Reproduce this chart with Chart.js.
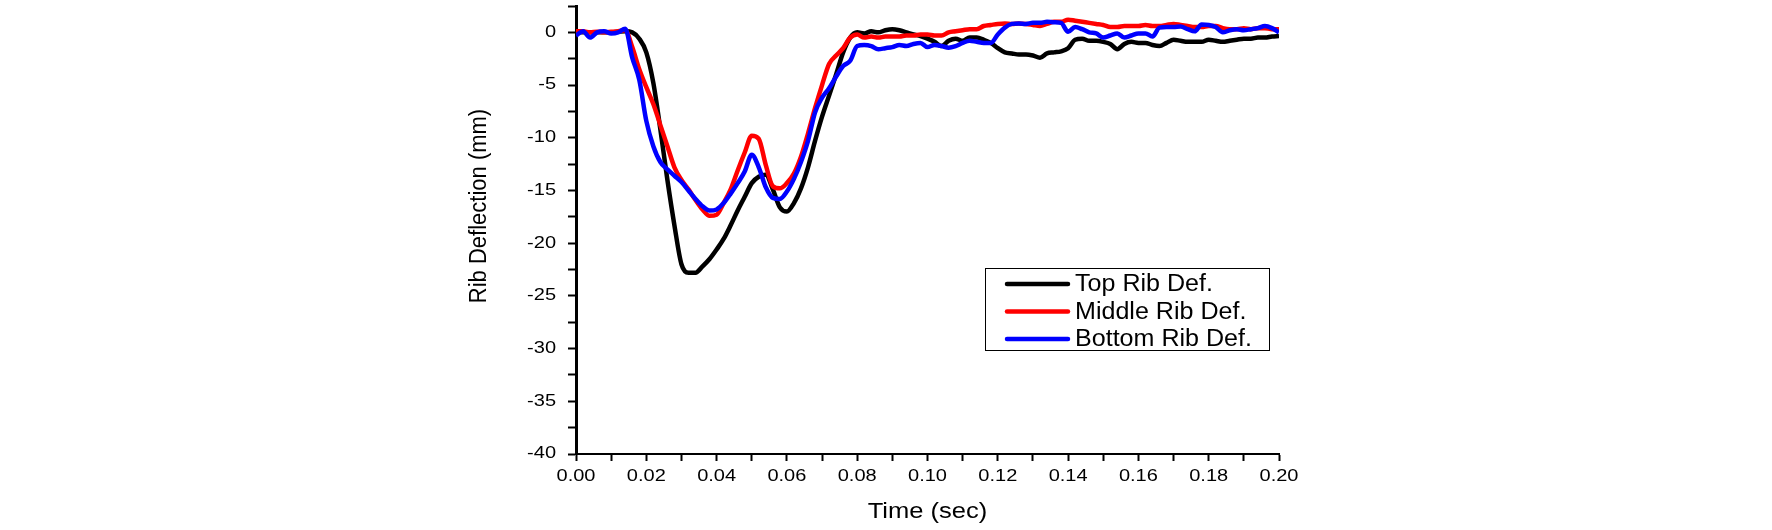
<!DOCTYPE html>
<html>
<head>
<meta charset="utf-8">
<title>Rib Deflection</title>
<script src="https://cdn.jsdelivr.net/npm/chart.js@4.4.0/dist/chart.umd.min.js"></script>
<style>
  body { margin: 0; background: #fff; }
  #wrap { width: 1772px; height: 530px; }
</style>
</head>
<body>
<div id="wrap"><canvas id="line-chart" width="1772" height="530"></canvas></div>
<script>
// Time axis (sec), every 2 ms
var timeSec = [
  0.000, 0.002, 0.004, 0.006, 0.008, 0.010, 0.012, 0.014, 0.016, 0.018,
  0.020, 0.022, 0.024, 0.026, 0.028, 0.030, 0.032, 0.034, 0.036, 0.038,
  0.040, 0.042, 0.044, 0.046, 0.048, 0.050, 0.052, 0.054, 0.056, 0.058,
  0.060, 0.062, 0.064, 0.066, 0.068, 0.070, 0.072, 0.074, 0.076, 0.078,
  0.080, 0.082, 0.084, 0.086, 0.088, 0.090, 0.092, 0.094, 0.096, 0.098,
  0.100, 0.102, 0.104, 0.106, 0.108, 0.110, 0.112, 0.114, 0.116, 0.118,
  0.120, 0.122, 0.124, 0.126, 0.128, 0.130, 0.132, 0.134, 0.136, 0.138,
  0.140, 0.142, 0.144, 0.146, 0.148, 0.150, 0.152, 0.154, 0.156, 0.158,
  0.160, 0.162, 0.164, 0.166, 0.168, 0.170, 0.172, 0.174, 0.176, 0.178,
  0.180, 0.182, 0.184, 0.186, 0.188, 0.190, 0.192, 0.194, 0.196, 0.198,
  0.200
];

// Rib deflection (mm)
var topRib = [
  0.0, 0.0, 0.0, 0.0, 0.0, 0.0, 0.05, 0.1, 0.0, -0.6,
  -1.9, -4.8, -9.2, -14.0, -18.3, -22.0, -22.8, -22.8, -22.2, -21.5,
  -20.6, -19.6, -18.3, -16.9, -15.6, -14.3, -13.7, -13.5, -14.9, -16.6,
  -17.0, -16.2, -14.8, -12.8, -10.3, -8.0, -6.0, -4.0, -1.9, -0.5,
  0.0, -0.1, 0.1, 0.0, 0.2, 0.3, 0.2, 0.0, -0.2, -0.35,
  -0.6, -0.9, -1.3, -0.8, -0.6, -0.8, -0.5, -0.5, -0.7, -1.0,
  -1.5, -1.9, -2.0, -2.1, -2.1, -2.2, -2.4, -2.0, -1.9, -1.8,
  -1.5, -0.7, -0.6, -0.8, -0.8, -0.9, -1.1, -1.6, -1.1, -0.9,
  -1.0, -1.0, -1.2, -1.3, -1.0, -0.7, -0.8, -0.9, -0.9, -0.9,
  -0.7, -0.8, -0.9, -0.8, -0.7, -0.6, -0.6, -0.5, -0.5, -0.4,
  -0.35
];
var middleRib = [
  0.1, 0.1, 0.0, 0.05, 0.0, 0.05, 0.1, 0.2, -1.4, -3.5,
  -5.2, -6.8, -8.8, -10.8, -12.8, -14.0, -14.9, -15.9, -16.8, -17.4,
  -17.3, -16.2, -14.9, -13.1, -11.4, -9.8, -10.1, -12.6, -14.6, -14.8,
  -14.3, -13.4, -11.8, -9.6, -7.2, -5.0, -3.0, -2.2, -1.5, -0.5,
  -0.2, -0.5, -0.4, -0.5, -0.4, -0.4, -0.4, -0.3, -0.3, -0.2,
  -0.2, -0.3, -0.3, 0.0, 0.1, 0.2, 0.3, 0.3, 0.6, 0.7,
  0.8, 0.85, 0.8, 0.85, 0.8, 0.7, 0.6, 0.8, 1.0, 1.0,
  1.2, 1.1, 1.0, 0.9, 0.8, 0.7, 0.5, 0.5, 0.6, 0.6,
  0.6, 0.7, 0.6, 0.6, 0.7, 0.8, 0.7, 0.6, 0.5, 0.5,
  0.6, 0.6, 0.4, 0.3, 0.3, 0.4, 0.3, 0.4, 0.4, 0.3,
  0.3
];
var bottomRib = [
  -0.3, 0.1, -0.5, 0.0, 0.1, -0.1, 0.0, 0.35, -2.4, -4.5,
  -8.4, -10.8, -12.3, -13.0, -13.6, -14.2, -15.0, -15.8, -16.5, -16.9,
  -16.8, -16.2, -15.3, -14.3, -13.2, -11.6, -12.8, -14.7, -15.7, -15.8,
  -15.1, -13.9, -12.3, -10.3, -7.6, -6.2, -5.3, -4.2, -3.2, -2.7,
  -1.3, -1.2, -1.3, -1.6, -1.5, -1.4, -1.2, -1.3, -1.1, -1.0,
  -1.4, -1.2, -1.3, -1.45, -1.3, -1.0, -0.8, -0.9, -1.0, -1.0,
  -0.2, 0.45, 0.8, 0.85, 0.8, 0.9, 0.9, 1.0, 0.95, 0.9,
  0.05, 0.5, 0.3, 0.0, -0.1, -0.5, -0.3, -0.1, -0.5, -0.3,
  -0.1, -0.1, -0.4, 0.45, 0.5, 0.5, 0.55, 0.3, 0.1, 0.75,
  0.7, 0.5, 0.0, 0.2, 0.3, 0.2, 0.3, 0.4, 0.6, 0.4,
  0.0
];

var seriesNames = ["Top Rib Def.", "Middle Rib Def.", "Bottom Rib Def."];
var seriesColors = ["#000000", "#ff0000", "#0000ff"];

var FONT = "'Liberation Sans', Arial, sans-serif";

function toPoints(ys) {
  return timeSec.map(function (t, i) { return { x: t, y: ys[i] }; });
}

// the original graphic is a bit wider than tall, so text is drawn stretched
function wideText(ctx, text, x, y, align, sx) {
  ctx.save();
  ctx.translate(x, y);
  ctx.scale(sx, 1);
  ctx.textAlign = align;
  ctx.fillText(text, 0, 0);
  ctx.restore();
}

// tick labels, axis titles and the boxed legend
var refOverlay = {
  id: 'refOverlay',
  afterDraw: function (chart) {
    var ctx = chart.ctx;
    var xs = chart.scales.x, ys = chart.scales.y;
    ctx.save();
    ctx.fillStyle = '#000';
    ctx.textBaseline = 'middle';

    ctx.font = '16px ' + FONT;
    xs.ticks.forEach(function (t) {
      var n = Math.round(t.value * 100);
      if (n % 2 !== 0) return;
      wideText(ctx, (n / 100).toFixed(2), xs.getPixelForValue(t.value), xs.top + 23, 'center', 1.25);
    });
    ys.ticks.forEach(function (t) {
      var n = Math.round(t.value * 10);
      if (n % 50 !== 0) return;
      wideText(ctx, String(n / 10), ys.right - 20, ys.getPixelForValue(t.value), 'right', 1.25);
    });

    ctx.font = '22px ' + FONT;
    wideText(ctx, 'Time (sec)', (chart.chartArea.left + chart.chartArea.right) / 2, 512, 'center', 1.16);

    ctx.save();
    ctx.translate(480, 206);
    ctx.rotate(-Math.PI / 2);
    ctx.scale(1, 1.06);
    ctx.textAlign = 'center';
    ctx.fillText('Rib Deflection (mm)', 0, 0);
    ctx.restore();

    ctx.strokeStyle = '#000';
    ctx.lineWidth = 1;
    ctx.strokeRect(985.5, 268.5, 284, 82);
    ctx.font = '23px ' + FONT;
    for (var i = 0; i < seriesNames.length; i++) {
      var y = 284 + i * 27.5;
      ctx.strokeStyle = seriesColors[i];
      ctx.lineWidth = 4.5;
      ctx.lineCap = 'round';
      ctx.beginPath();
      ctx.moveTo(1007, y);
      ctx.lineTo(1068, y);
      ctx.stroke();
      wideText(ctx, seriesNames[i], 1075, y + 1, 'left', 1.09);
    }
    ctx.restore();
  }
};

var allSeries = [topRib, middleRib, bottomRib];

new Chart(document.getElementById("line-chart"), {
  type: 'line',
  data: {
    datasets: allSeries.map(function (ys, i) {
      return {
        label: seriesNames[i],
        data: toPoints(ys),
        borderColor: seriesColors[i],
        backgroundColor: seriesColors[i],
        borderWidth: 4.5,
        borderJoinStyle: 'round',
        pointRadius: 0,
        cubicInterpolationMode: 'monotone',
        fill: false,
        order: 2 - i
      };
    })
  },
  options: {
    responsive: false,
    animation: false,
    layout: { padding: { left: 476, right: 493, top: 6, bottom: 0 } },
    plugins: {
      legend: { display: false },
      tooltip: { enabled: false }
    },
    scales: {
      x: {
        type: 'linear',
        min: 0,
        max: 0.2,
        afterFit: function (s) { s.height = 76; s.paddingLeft = 0; s.paddingRight = 0; },
        border: { display: true, color: '#000', width: 2 },
        grid: { drawOnChartArea: false, drawTicks: true, tickLength: 7, tickColor: '#000', tickWidth: 2 },
        ticks: { display: false, stepSize: 0.01, autoSkip: false }
      },
      y: {
        min: -40,
        max: 2.5,
        afterFit: function (s) { s.width = 100; s.paddingTop = 0; s.paddingBottom = 0; },
        border: { display: true, color: '#000', width: 3 },
        grid: { drawOnChartArea: false, drawTicks: true, tickLength: 8, tickColor: '#000', tickWidth: 2 },
        ticks: { display: false, stepSize: 2.5, autoSkip: false }
      }
    }
  },
  plugins: [refOverlay]
});
</script>
</body>
</html>
